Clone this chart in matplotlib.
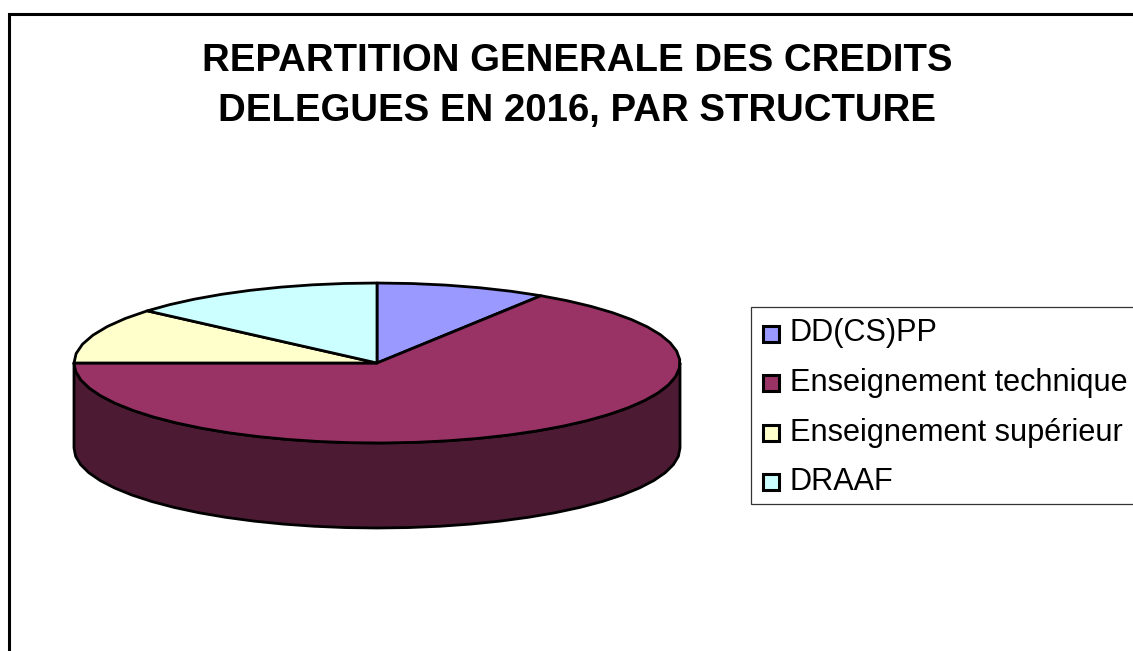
import numpy as np
import matplotlib
matplotlib.use("Agg")
import matplotlib.pyplot as plt
from matplotlib.patches import Polygon, Rectangle

plt.rcParams['font.family'] = ['Liberation Sans', 'DejaVu Sans']

title = "REPARTITION GENERALE DES CREDITS\nDELEGUES EN 2016, PAR STRUCTURE"
labels = ["DD(CS)PP", "Enseignement technique", "Enseignement supérieur", "DRAAF"]
# shares in percent
values = [9.1, 65.9, 11.3, 13.7]
colors = ["#9999FF", "#993366", "#FFFFCC", "#CCFFFF"]
wall_color = "#4C1A33"

# pie geometry in pixels
cx, cy = 377, 363
rx, ry = 303, 80
depth = 85
lw = 2.0

fig = plt.figure(figsize=(11.33, 6.51), dpi=100)
ax = fig.add_axes([0, 0, 1, 1])
ax.set_xlim(0, 1133)
ax.set_ylim(651, 0)
ax.axis("off")


def rim(a0, a1, dy=0):
    # a is degrees clockwise from the top of the ellipse
    n = max(2, int(abs(a1 - a0) / 6) + 1)
    a = np.radians(np.linspace(a0, a1, n))
    return np.column_stack([cx + rx * np.sin(a), cy - ry * np.cos(a) + dy])


# outer frame, only left and top are visible in the picture
ax.plot([8.5, 8.5, 1133], [651, 13.5, 13.5], color="black", lw=2.2,
        solid_joinstyle="miter", solid_capstyle="butt")

ax.text(577, 86, title, ha="center", va="center", fontsize=27.6,
        fontweight="bold", color="black", linespacing=1.47)

angles = np.cumsum([0] + values) * 360.0 / sum(values)

# side wall: only the front half of the rim shows
for i in range(len(values)):
    a0 = max(angles[i], 90)
    a1 = min(angles[i + 1], 270)
    if a1 <= a0:
        continue
    pts = np.vstack([rim(a0, a1), rim(a1, a0, depth)])
    ax.add_patch(Polygon(pts, closed=True, facecolor=wall_color, edgecolor="black",
                         lw=lw, joinstyle="round"))

# top face
for i in range(len(values)):
    pts = np.vstack([[cx, cy], rim(angles[i], angles[i + 1])])
    ax.add_patch(Polygon(pts, closed=True, facecolor=colors[i], edgecolor="black",
                         lw=lw, joinstyle="round"))

# legend box runs off the right edge
ax.add_patch(Rectangle((750.5, 306.5), 400, 197.5, facecolor="white",
                       edgecolor="#333333", lw=0.9))
legend_y = [333.5, 383, 432.5, 482]
for y, name, col in zip(legend_y, labels, colors):
    ax.add_patch(Rectangle((762.5, y - 8), 16, 16, facecolor=col, edgecolor="black", lw=2.2))
    ax.text(790, y, name, ha="left", va="center", fontsize=22.1, color="black")

fig.savefig("out.png", dpi=100, facecolor="white")
